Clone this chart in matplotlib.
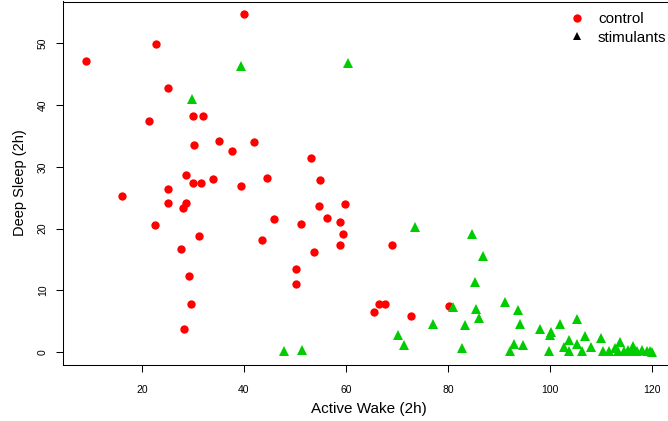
import numpy as np
import matplotlib
matplotlib.use("Agg")
import matplotlib.pyplot as plt
from matplotlib.lines import Line2D

plt.rcParams['font.family'] = ['Liberation Sans', 'DejaVu Sans']

# control group: active wake vs deep sleep (2h windows)
control_wake = [39.95, 22.79, 9.07, 25.20, 29.96, 31.92, 21.47, 30.29, 35.19, 37.74,
                41.91, 28.59, 30.04, 31.52, 33.87, 39.36, 44.53, 25.20, 16.12, 25.20,
                28.59, 28.00, 22.51, 45.83, 31.27, 43.61, 27.74, 50.27, 50.14, 29.25,
                29.64, 28.27, 53.08, 55.03, 54.72, 59.74, 51.19, 56.21, 58.76, 59.54,
                58.76, 53.80, 69.14, 66.59, 67.77, 65.56, 72.86, 80.25]
control_sleep = [54.70, 49.89, 47.16, 42.71, 38.27, 38.27, 37.41, 33.53, 34.18, 32.56,
                 34.06, 28.72, 27.45, 27.42, 28.02, 26.97, 28.13, 26.45, 25.24, 24.18,
                 24.13, 23.28, 20.57, 21.59, 18.79, 18.14, 16.68, 13.44, 10.97, 12.31,
                 7.73, 3.68, 31.47, 27.94, 23.70, 23.97, 20.78, 21.66, 21.06, 19.16,
                 17.28, 16.20, 17.33, 7.82, 7.73, 6.48, 5.83, 7.40]

# stimulants group
stim_wake = [39.36, 29.90, 60.40, 47.79, 51.31, 73.65, 84.76, 86.91, 85.40, 80.97,
             85.54, 86.13, 77.06, 83.39, 70.20, 71.49, 82.86, 91.28, 93.71, 94.16,
             98.14, 102.00, 105.33, 100.23, 100.04, 92.93, 92.14, 94.81, 99.78, 103.82,
             106.90, 110.09, 113.75, 102.78, 103.76, 105.27, 106.25, 108.13, 116.24, 110.50,
             111.50, 112.80, 113.40, 114.50, 115.40, 116.20, 117.00, 118.00, 119.00, 119.70,
             120.00]
stim_sleep = [46.37, 40.98, 46.86, 0.21, 0.32, 20.30, 19.06, 15.60, 11.39, 7.34,
              7.01, 5.56, 4.54, 4.37, 2.75, 1.13, 0.70, 8.05, 6.75, 4.49,
              3.77, 4.49, 5.35, 3.24, 2.80, 1.30, 0.16, 1.18, 0.21, 1.90,
              2.59, 2.27, 1.67, 0.76, 0.16, 1.25, 0.16, 0.76, 1.02, 0.20,
              0.10, 0.60, 0.10, 0.20, 0.30, 0.10, 0.20, 0.40, 0.10, 0.20,
              0.00]

xticks = [20, 40, 60, 80, 100, 120]
yticks = [0, 10, 20, 30, 40, 50]

W, H = 668, 421
fig = plt.figure(figsize=(W / 100, H / 100), dpi=100)
# plot region runs past the right edge of the canvas
ax = fig.add_axes([63 / W, (H - 364.5) / H, (674.6 - 63) / W, 363 / H])

ax.plot(control_wake, control_sleep, 'o', color='#ff0000', ms=6, mew=0)
ax.plot(stim_wake, stim_sleep, '^', color='#00cd00', ms=6.5, mew=0)

ax.set_xlim(4.56, 124.44)
ax.set_ylim(-2.02, 56.77)
ax.set_xticks(xticks)
ax.set_yticks(yticks)
ax.tick_params(direction='out', length=5, width=0.75, labelsize=7.5, colors='black')
ax.tick_params(axis='x', pad=9.5)
ax.tick_params(axis='y', pad=6)
for lab in ax.get_yticklabels():
    lab.set_rotation(90)
    lab.set_va('center')
for sp in ax.spines.values():
    sp.set_linewidth(0.75)

ax.set_xlabel('Active Wake (2h)', fontsize=11, labelpad=5)
ax.set_ylabel('Deep Sleep (2h)', fontsize=10.5, labelpad=8)

handles = [Line2D([], [], ls='none', marker='o', color='#ff0000', ms=6, mew=0),
           Line2D([], [], ls='none', marker='^', color='black', ms=6, mew=0)]
fig.legend(handles, ['control', 'stimulants'], loc='upper left',
           bbox_to_anchor=(569 / W, 1 - 12 / H), frameon=False, fontsize=11,
           handlelength=1, handletextpad=0.9, borderpad=0, borderaxespad=0,
           labelspacing=0.3)

fig.savefig('out.png', dpi=100)
